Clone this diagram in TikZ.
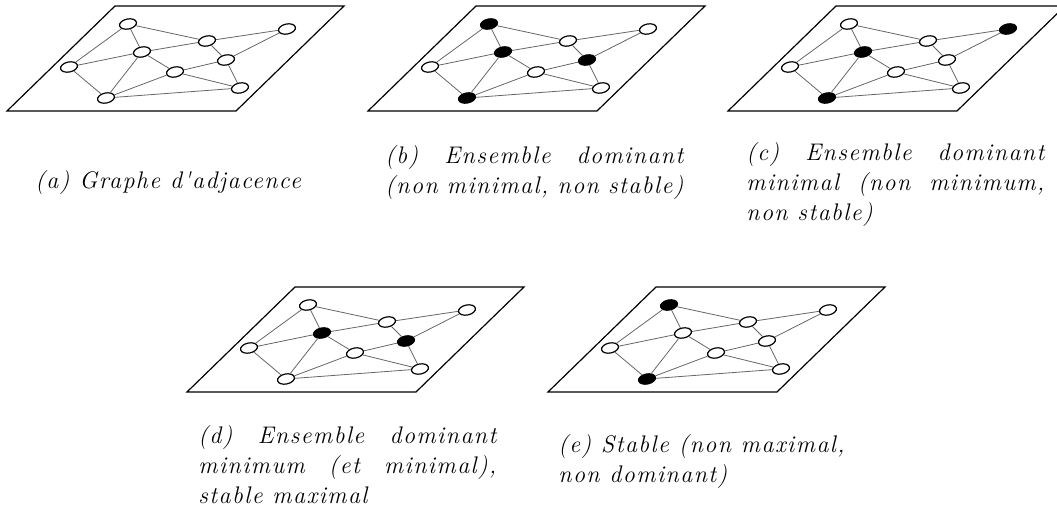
\documentclass[tikz,border=0pt]{standalone}
\usepackage{fontspec}
\newfontfamily\capfont{Latin Modern Roman}[LetterSpace=6]
\usetikzlibrary{shapes.geometric}

\begin{document}
\begin{tikzpicture}[x=0.5pt, y=-0.5pt,
  plane/.style={draw, line width=0.6pt},
  vtx0/.style={ellipse, draw, line width=0.6pt, fill=white, inner sep=0pt, minimum width=8.6pt, minimum height=5pt, rotate=12},
  vtx1/.style={vtx0, fill=black},
  edge/.style={draw=black!60, line width=0.4pt},
  capt/.style={font=\capfont\itshape\fontsize{12}{15}\selectfont, inner sep=0pt, anchor=north west},
  justcapt/.style={capt, text width=149pt, align=justify},
]
\useasboundingbox (0,0) rectangle (1057,508);

% === five planes, the same graph on each, marked vertices in black ===
\foreach \g/\dx/\dy/\marks in {a/0/0/{0}, b/361/0/{1,4,5,9}, c/721/0/{2,4,9}, d/180/281/{4,5}, e/541/281/{1,9}} {
  \begin{scope}[shift={(\dx,\dy)}]
    \draw[plane] (7,111) -- (236,111) -- (344,6) -- (115,6) -- cycle;
    \foreach \i/\px/\py in {1/128/24, 2/287/29, 3/207/41, 4/142/52, 5/226/60, 6/69/67, 7/175/72, 8/240/88, 9/106/98} {
      \gdef\mk{0}
      \foreach \k in \marks {\ifnum\k=\i \gdef\mk{1}\fi}
      \node[vtx\mk] (\g\i) at (\px,\py) {};
    }
    \foreach \u/\v in {1/3, 1/4, 1/6, 2/3, 2/5, 3/4, 3/5, 4/6, 4/7, 4/9, 5/7, 5/8, 6/9, 7/8, 7/9, 8/9}
      \draw[edge] (\g\u) -- (\g\v);
  \end{scope}
}

% === captions ===
\node[capt] (capa) at (35,170) {(a) Graphe d'adjacence};
\node[justcapt] (capb) at (385,145) {(b) Ensemble dominant\linebreak (non minimal, non stable)};
\node[justcapt] (capc) at (746,142) {(c) Ensemble dominant\linebreak minimal (non minimum,\linebreak non stable)};
\node[justcapt] (capd) at (198,425) {(d) Ensemble dominant\linebreak minimum (et minimal),\linebreak stable maximal};
\node[capt, align=left] (cape) at (558,434) {(e) Stable (non maximal,\\non dominant)};
\end{tikzpicture}
\end{document}
